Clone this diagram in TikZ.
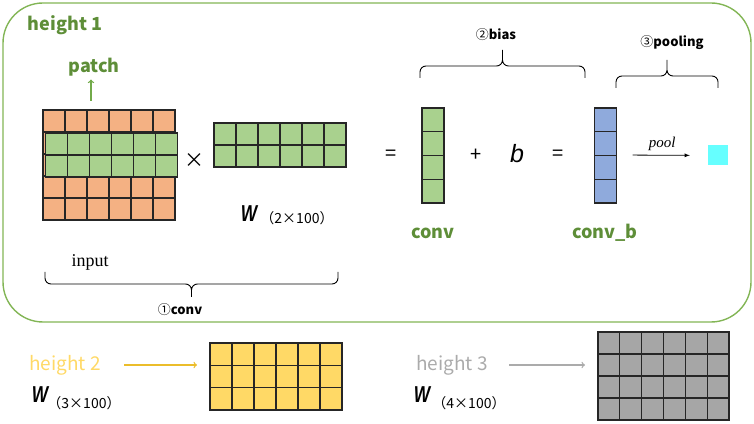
\documentclass[tikz,border=0pt]{standalone}
\usepackage{fontspec}
\usepackage{graphicx}
\setmainfont{Noto Sans CJK SC}
\newfontfamily\romanfont{Liberation Serif}
\newfontfamily\wfont{Liberation Sans}
\usepackage{tikz}

\definecolor{boxgreen}{HTML}{82B555}
\definecolor{labelgreen}{HTML}{5E8E38}
\definecolor{arrowgreen}{HTML}{72AA4A}
\definecolor{cellorange}{HTML}{F4B183}
\definecolor{cellgreen}{HTML}{A9D18E}
\definecolor{cellblue}{HTML}{8FAADC}
\definecolor{cellyellow}{HTML}{FFD966}
\definecolor{cellgray}{HTML}{A6A6A6}
\definecolor{pooledcyan}{HTML}{66FFFF}
\definecolor{textyellow}{HTML}{FFD966}
\definecolor{arrowyellow}{HTML}{EBBD2B}
\definecolor{textgray}{HTML}{ABABAB}

\tikzset{
    cellgrid/.style={line width=1.2pt, draw=black!85},
    greenlabel/.style={text=labelgreen, font=\fontsize{18}{18}\selectfont\bfseries},
    bracelabel/.style={font=\fontsize{13}{13}\selectfont},
    bracepath/.style={line width=0.9pt, rounded corners=6pt},
    opsign/.style={font=\fontsize{20}{20}\selectfont},
    wsymbol/.style={font=\fontsize{23}{23}\selectfont\wfont\bfseries\itshape, inner sep=0pt},
    wsize/.style={font=\fontsize{14}{14}\selectfont, inner sep=0pt}
}

\begin{document}
\begin{tikzpicture}[x=1pt, y=1pt]
    \useasboundingbox (0,0) rectangle (754,423);

    \draw[draw=boxgreen, line width=1.4pt, rounded corners=40pt] (3,101) rectangle (751,420);

    \node[greenlabel] (height1) at (65,398) {height 1};

    \begin{scope}[shift={(43,203)}]
    \draw[cellgrid, fill=cellorange] (0,0) rectangle (132,110);
    \foreach \gx in {22,44,...,110} \draw[cellgrid] (\gx,0) -- (\gx,110);
    \foreach \gy in {22,44,...,88} \draw[cellgrid] (0,\gy) -- (132,\gy);
    \end{scope}

    \begin{scope}[shift={(45.5,246)}]
    \draw[cellgrid, fill=cellgreen] (0,0) rectangle (132,44);
    \foreach \gx in {22,44,...,110} \draw[cellgrid] (\gx,0) -- (\gx,44);
    \draw[cellgrid] (0,22) -- (132,22);
    \coordinate (patch-foot) at (45.5,76);
    \end{scope}

    \node[greenlabel] (patch) at (94,356) {patch};
    \node[opsign] (times) at (194,262) {×};

    \begin{scope}[shift={(214,256)}]
    \draw[cellgrid, fill=cellgreen] (0,0) rectangle (132,44);
    \foreach \gx in {22,44,...,110} \draw[cellgrid] (\gx,0) -- (\gx,44);
    \draw[cellgrid] (0,22) -- (132,22);
    \end{scope}

    \node[wsymbol] (w1) at (249,209) {\scalebox{0.75}[1]{W}};
    \node[wsize] (w1size) at (297,205) {（2×100）};

    \node[font=\fontsize{18}{18}\selectfont\romanfont] (input) at (90,161) {input};
    \draw[bracepath] (45,151) -- (45,139) -- (191.5,139) -- (191.5,126)
        (338,151) -- (338,139) -- (191.5,139) -- (191.5,126);
    \node[bracelabel] (convstep) at (180,113) {①\textbf{conv}};

    \node[opsign] (eq1) at (391,268) {=};

    \begin{scope}[shift={(422,220)}]
    \draw[cellgrid, fill=cellgreen] (0,0) rectangle (22,95);
    \foreach \gy in {23.75,47.5,71.25} \draw[cellgrid] (0,\gy) -- (22,\gy);
    \end{scope}

    \node[opsign] (plus) at (476,268) {+};
    \node[font=\fontsize{25}{25}\selectfont\wfont\itshape] (bias) at (517,269) {b};
    \node[opsign] (eq2) at (558,268) {=};

    \begin{scope}[shift={(594.5,220)}]
    \draw[cellgrid, fill=cellblue] (0,0) rectangle (22,95);
    \foreach \gy in {23.75,47.5,71.25} \draw[cellgrid] (0,\gy) -- (22,\gy);
    \coordinate (convb-right) at (22,48);
    \end{scope}

    \node[fill=pooledcyan, minimum size=20pt, inner sep=0pt] (pooled) at (718,267.5) {};

    \node[greenlabel] (conv) at (433,190) {conv};
    \node[greenlabel] (convb) at (605,190) {conv\_b};

    \draw[bracepath] (420,345) -- (420,357) -- (502.5,357) -- (502.5,373)
        (585,345) -- (585,357) -- (502.5,357) -- (502.5,373);
    \node[bracelabel] (biasstep) at (496,388) {②\textbf{bias}};
    \draw[bracepath] (616,335) -- (616,347) -- (667,347) -- (667,363)
        (718,335) -- (718,347) -- (667,347) -- (667,363);
    \node[bracelabel] (poolstep) at (672,380) {③\textbf{pooling}};

    \node[text=textyellow, font=\fontsize{19}{19}\selectfont] (height2) at (65,58) {height 2};
    \node[wsymbol] (w2) at (40,28) {\scalebox{0.75}[1]{W}};
    \node[wsize] (w2size) at (84,20) {（3×100）};

    \begin{scope}[shift={(210,13)}]
    \draw[cellgrid, fill=cellyellow] (0,0) rectangle (132,67);
    \foreach \gx in {22,44,...,110} \draw[cellgrid] (\gx,0) -- (\gx,67);
    \foreach \gy in {22.333,44.667} \draw[cellgrid] (0,\gy) -- (132,\gy);
    \coordinate (ygrid-left) at (0,33.5);
    \end{scope}

    \node[text=textgray, font=\fontsize{19}{19}\selectfont] (height3) at (452,58) {height 3};
    \node[wsymbol] (w3) at (422,28) {\scalebox{0.75}[1]{W}};
    \node[wsize] (w3size) at (469,20) {（4×100）};

    \begin{scope}[shift={(598,3)}]
    \draw[cellgrid, fill=cellgray] (0,0) rectangle (131,88);
    \foreach \gx in {21.833,43.667,65.5,87.333,109.167} \draw[cellgrid] (\gx,0) -- (\gx,88);
    \foreach \gy in {22,44,66} \draw[cellgrid] (0,\gy) -- (131,\gy);
    \coordinate (ggrid-left) at (0,44);
    \end{scope}

    \draw[->, draw=arrowgreen, line width=1.3pt] (patch-foot) -- (patch-foot |- patch.south);
    \draw[-latex, line width=0.8pt, shorten <=16pt, shorten >=18pt] (convb-right) -- (pooled)
        node[midway, above=1pt, font=\fontsize{15}{15}\selectfont\romanfont\itshape] (poollabel) {pool};
    \draw[->, draw=arrowyellow, line width=1.3pt, shorten <=20pt, shorten >=13pt] (height2.east) -- (height2.east -| ygrid-left);
    \draw[->, draw=textgray, line width=1.3pt, shorten <=18pt, shorten >=13pt] (height3.east) -- (height3.east -| ggrid-left);

\end{tikzpicture}
\end{document}
